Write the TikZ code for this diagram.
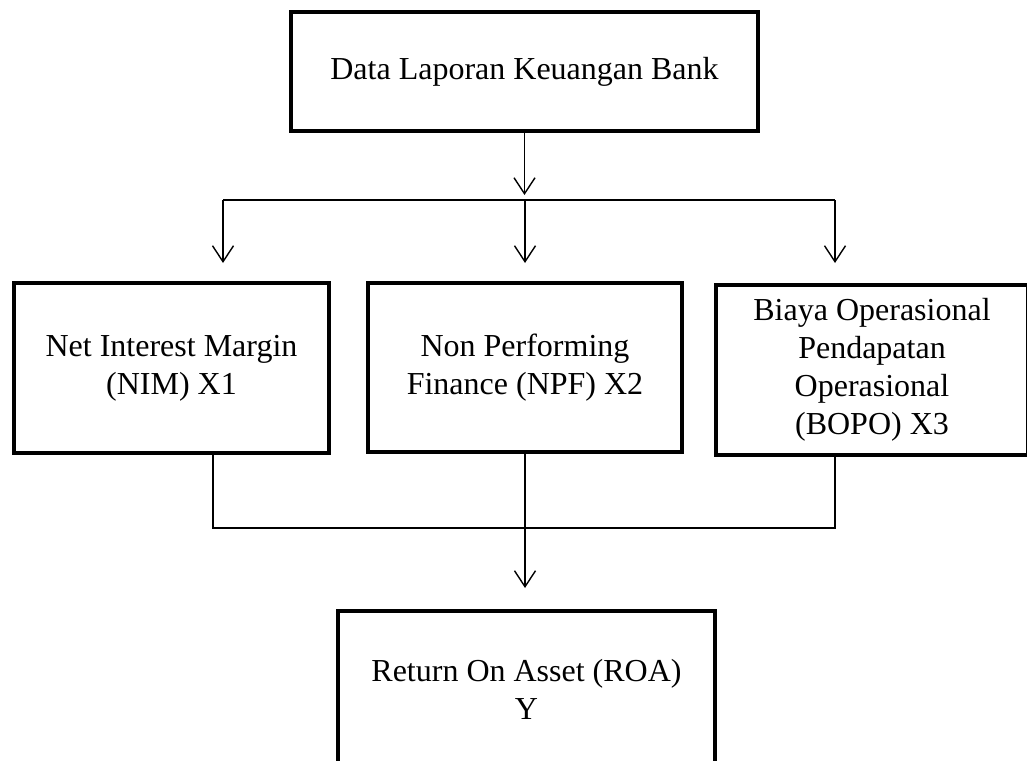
\documentclass[tikz,border=0pt]{standalone}
\usepackage{fontspec}
\setmainfont{Liberation Serif}
\usetikzlibrary{arrows.meta}
\begin{document}
\begin{tikzpicture}[x=1pt,y=-1pt,
  box/.style={draw=black,line width=4pt,rectangle,inner sep=0pt,align=center,
    font=\fontsize{32}{38}\selectfont},
  conn/.style={draw=black,line width=1.4pt},
  arr/.style={conn,-{Straight Barb[length=16pt,width=21pt,line width=1.4pt]}}]
\useasboundingbox (0,0) rectangle (1027,760);
\fill[white] (0,0) rectangle (1027,760);
\begin{scope}
\clip (0,0) rectangle (1027,760);
\node[box,minimum width=467pt,minimum height=119pt] (top) at (524.5,71.5) {Data Laporan Keuangan Bank};
\node[box,minimum width=315pt,minimum height=170pt] (nim) at (171.5,368) {Net Interest Margin\\(NIM) X1};
\node[box,minimum width=314pt,minimum height=169pt] (npf) at (525,367.5) {Non Performing\\Finance (NPF) X2};
\node[box,minimum width=312pt,minimum height=170pt] (bopo) at (872,370) {Biaya Operasional\\Pendapatan\\Operasional\\(BOPO) X3};
\node[box,minimum width=377pt,minimum height=156pt] (roa) at (526.5,689) {Return On Asset (ROA)\\Y};
\end{scope}
% top split
\coordinate (t0) at (524.5,195);
\coordinate (hl) at (223,200);
\coordinate (hm) at (525,200);
\coordinate (hr) at (835,200);
\coordinate (a1) at (223,263);
\coordinate (a2) at (525,263);
\coordinate (a3) at (835,263);
\draw[arr] (top.south) -- (t0);
\draw[conn] (hl) -- (hr);
\draw[arr] (hl) -- (a1);
\draw[arr] (hm) -- (a2);
\draw[arr] (hr) -- (a3);
% bottom join
\coordinate (jl) at (213,528);
\coordinate (jr) at (835,528);
\coordinate (t1) at (525,588);
\draw[conn] (nim.south -| jl) -- (jl) -- (jr) -- (bopo.south -| jr);
\draw[arr] (npf.south) -- (t1);
\end{tikzpicture}
\end{document}
